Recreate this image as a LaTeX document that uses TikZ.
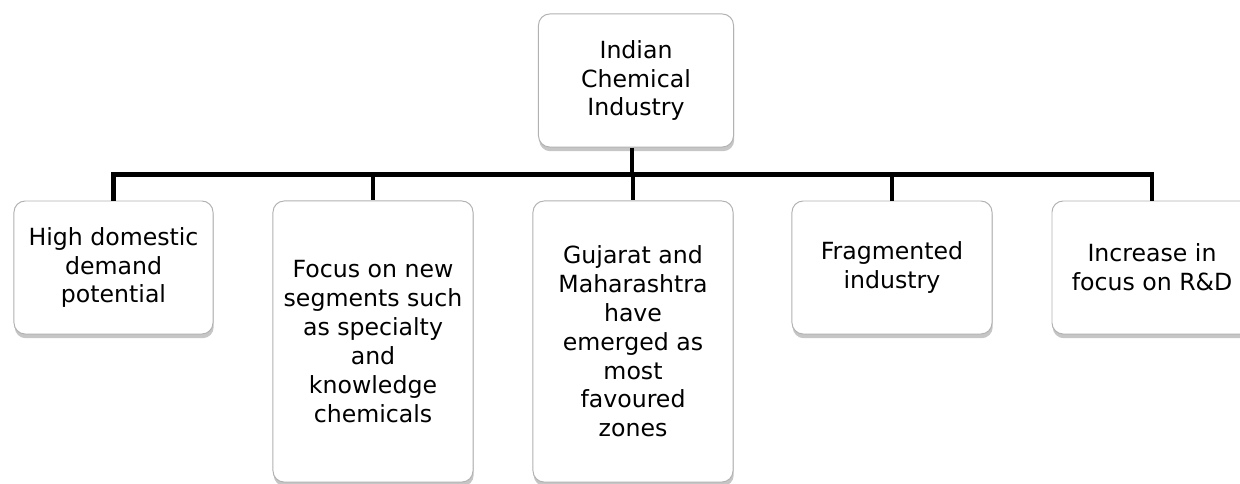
\documentclass[tikz,border=0pt]{standalone}
\usepackage{fontspec}
\setmainfont{DejaVu Sans}
\usetikzlibrary{shadows}
\begin{document}
\begin{tikzpicture}[x=0.025cm,y=-0.025cm,
    card/.style={draw=gray!60,line width=0.7pt,fill=white,rounded corners=0.28cm,
      drop shadow={shadow xshift=0.5pt,shadow yshift=-3pt,opacity=0.45},
      minimum width=5cm,minimum height=3.325cm,inner sep=0pt,align=center,
      font=\fontsize{16.8}{20.5}\selectfont,text=black},
    tall/.style={card,minimum height=7.025cm},
    link/.style={line width=3.5pt,black}]
  \clip (0,0) rectangle (1240,483);
  \node[card,minimum width=4.875cm] (top) at (636,80.5) {Indian\\Chemical\\Industry};
  \node[card,minimum width=4.975cm] (demand) at (113.5,267.5) {High domestic\\demand\\potential};
  \node[tall] (segments) at (373,341.5) {Focus on new\\segments such\\as specialty\\and\\knowledge\\chemicals};
  \node[tall] (zones) at (633,341.5) {Gujarat and\\Maharashtra\\have\\emerged as\\most\\favoured\\zones};
  \node[card] (fragment) at (892,267.5) {Fragmented\\industry};
  \node[card] (research) at (1152,267.5) {Increase in\\focus on R\&D};
  \coordinate (hub) at (632,174.5);
  \draw[link] (hub |- top.south) -- (hub);
  \draw[link] (hub) -| (demand.north);
  \draw[link] (hub) -| (segments.north);
  \draw[link] (hub) -| (zones.north);
  \draw[link] (hub) -| (fragment.north);
  \draw[link] (hub) -| (research.north);
\end{tikzpicture}
\end{document}
